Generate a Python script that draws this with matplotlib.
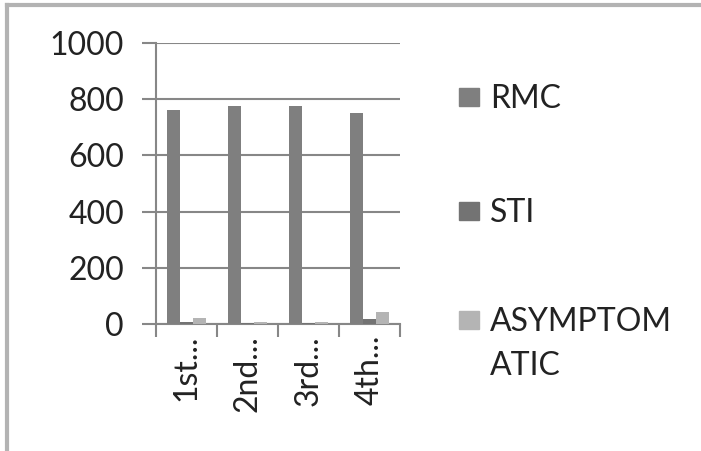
import numpy as np
import matplotlib.pyplot as plt
from matplotlib.lines import Line2D
from matplotlib.patches import Rectangle

# data
categories = ["1st...", "2nd...", "3rd...", "4th..."]
series_names = ["RMC", "STI", "ASYMPTOM\nATIC"]
rmc = [760, 776, 776, 750]
sti = [8, 2, 2, 18]
asymptomatic = [22, 8, 8, 42]
yticks = [0, 200, 400, 600, 800, 1000]

colors = ["#7f7f7f", "#737373", "#b4b4b4"]
grid_c = "#878787"
txt_c = "#222222"
fs = 23
plt.rcParams["font.family"] = ["Lato", "DejaVu Sans"]

fig = plt.figure(figsize=(7.01, 4.51), dpi=100)
ax = fig.add_axes([156/701, 127/451, (400-156)/701, (324-43)/451])

x = np.arange(len(categories)) + 0.5
w = 0.21
for k, vals in enumerate([rmc, sti, asymptomatic]):
    ax.bar(x + (k - 1) * w, vals, width=w, color=colors[k], zorder=3)

ax.set_xlim(0, len(categories))
ax.set_ylim(0, 1000)
ax.set_yticks(yticks)
ax.set_yticklabels([str(v) for v in yticks], fontsize=fs, color=txt_c)
ax.yaxis.grid(True, color=grid_c, linewidth=1.5, zorder=0)

# category boundary ticks on x, labels at centres
ax.set_xticks(np.arange(len(categories) + 1))
ax.set_xticklabels([])
ax.set_xticks(x, minor=True)
ax.set_xticklabels(categories, minor=True, rotation=90, fontsize=fs,
                   color=txt_c, va="top")
ax.tick_params(axis="x", which="minor", length=0, pad=8)
ax.tick_params(axis="x", which="major", length=9, width=1.5, color=grid_c)
ax.tick_params(axis="y", length=10, width=1.5, color=grid_c, pad=13)

for s in ["top", "right"]:
    ax.spines[s].set_visible(False)
for s in ["left", "bottom"]:
    ax.spines[s].set_color(grid_c)
    ax.spines[s].set_linewidth(1.5)

# legend drawn by hand to match the layout
leg_y = [97, 211, 320]
for name, c, yy in zip(series_names, colors, leg_y):
    fy = 1 - yy / 451
    fig.patches.append(Rectangle((459/701, fy - 9/451), 20/701, 18/451,
                                 transform=fig.transFigure, color=c))
    for i, line in enumerate(name.split("\n")):
        fig.text(490/701, 1 - (yy + 11 + i * 44) / 451, line, fontsize=fs,
                 color=txt_c, va="baseline", ha="left")

# outer frame (top and left edges visible)
fig.add_artist(Line2D([7/701, 1], [1 - 5/451, 1 - 5/451], color="#b3b3b3",
                      linewidth=3, transform=fig.transFigure))
fig.add_artist(Line2D([7/701, 7/701], [0, 1 - 5/451], color="#b3b3b3",
                      linewidth=3, transform=fig.transFigure))

fig.savefig("out.png", dpi=100)
